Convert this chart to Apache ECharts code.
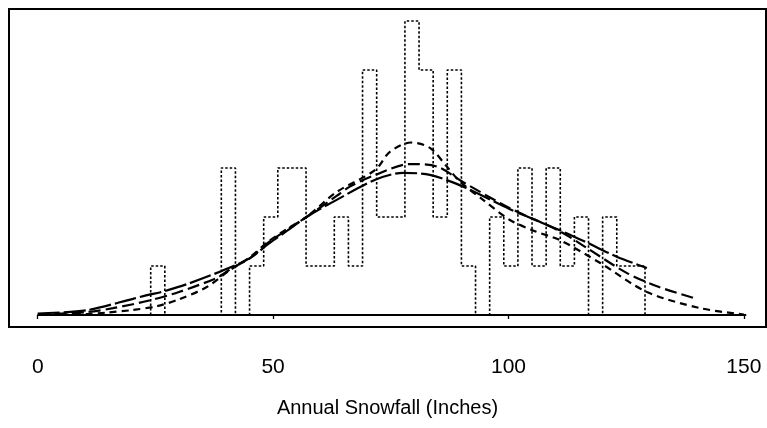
<!DOCTYPE html>
<html>
<head>
<meta charset="utf-8">
<script src="https://cdn.jsdelivr.net/npm/echarts@6/dist/echarts.min.js"></script>
<style>
html,body{margin:0;padding:0;background:#fff;}
#c{width:767px;height:428px;}
</style>
</head>
<body>
<div id="c"></div>
<script>
// ---- data ----
const tickValues = [0, 50, 100, 150];
const xTitle = 'Annual Snowfall (Inches)';

// histogram bins (left / right edges, inches) and counts
const binLeft = [24,27,30,33,36,39,42,45,48,51,54,57,60,63,66,69,72,75,78,81,84,87,90,93,96,99,102,105,108,111,114,117,120,123,126];
const binRight = [27,30,33,36,39,42,45,48,51,54,57,60,63,66,69,72,75,78,81,84,87,90,93,96,99,102,105,108,111,114,117,120,123,126,129];
const binCounts = [1,0,0,0,0,3,0,1,2,3,3,1,1,2,1,5,2,2,6,5,2,5,1,0,2,1,3,1,3,1,2,0,2,1,1];

// baseline extent
const baselineX = [0, 150.5];

// long-dash curve
const longX = [0, 10.5, 20.2, 23.9, 25.9, 31.7, 39.1, 45.1, 49, 53, 57.1, 63.5, 71.7, 77.6, 83.3, 90.4, 100.3, 110.9, 116.6, 123, 129.4];
const longY = [0.03, 0.10, 0.33, 0.42, 0.46, 0.63, 0.90, 1.16, 1.45, 1.72, 2.0, 2.35, 2.76, 2.90, 2.86, 2.62, 2.16, 1.73, 1.48, 1.19, 0.96];

// medium-dash curve
const medX = [0, 10.5, 16, 23.9, 30, 38.1, 41, 45.1, 49, 53, 57.1, 63.5, 66.3, 71.7, 79.1, 84.8, 90.4, 100.3, 110.9, 116.6, 125.1, 132, 140];
const medY = [0.01, 0.06, 0.14, 0.30, 0.47, 0.76, 0.94, 1.16, 1.48, 1.74, 2.0, 2.43, 2.62, 2.86, 3.08, 3.03, 2.71, 2.18, 1.71, 1.37, 0.86, 0.57, 0.33];

// short-dash curve
const shortX = [0, 10.5, 14.7, 20, 25.3, 30, 35.9, 40.9, 45.1, 49, 53, 57.1, 63.5, 71.7, 74.8, 79.3, 83.3, 86.9, 89.7, 94.6, 100.3, 105.6, 110.9, 119.5, 129.4, 140.7, 150];
const shortY = [0.0, 0.02, 0.05, 0.10, 0.18, 0.32, 0.57, 0.92, 1.18, 1.50, 1.76, 2.0, 2.51, 2.96, 3.33, 3.52, 3.41, 3.03, 2.72, 2.35, 1.94, 1.71, 1.53, 1.06, 0.47, 0.14, 0.01];

// ---- build series data ----
const histPts = [];
histPts.push([binLeft[0], 0]);
for (let i = 0; i < binCounts.length; i++) {
  histPts.push([binLeft[i], binCounts[i]]);
  histPts.push([binRight[i], binCounts[i]]);
}
histPts.push([binRight[binRight.length - 1], 0]);

const zip = (xs, ys) => xs.map((x, i) => [x, ys[i]]);

const chart = echarts.init(document.getElementById('c'), null, {renderer: 'canvas'});
const FONT = '"Liberation Sans", Arial, Helvetica, sans-serif';

chart.setOption({
  animation: false,
  backgroundColor: '#fff',
  grid: {
    left: 9, right: 1, top: 9, bottom: 101,
    show: true, borderColor: '#000', borderWidth: 2, backgroundColor: 'transparent'
  },
  xAxis: {
    type: 'value',
    min: -6.1, max: 154.7,
    offset: 4,
    axisLine: {show: false},
    splitLine: {show: false},
    axisTick: {show: true, customValues: tickValues, length: 4, lineStyle: {color: '#000', width: 1.3}},
    axisLabel: {show: true, customValues: tickValues, margin: 26, color: '#000', fontSize: 21, fontFamily: FONT},
    name: xTitle,
    nameLocation: 'middle',
    nameGap: 67,
    nameTextStyle: {color: '#000', fontSize: 20, fontFamily: FONT}
  },
  yAxis: {
    type: 'value',
    min: -0.245, max: 6.245,
    show: false,
    splitLine: {show: false}
  },
  series: [
    {
      type: 'line', data: histPts, symbol: 'none', silent: true, z: 2,
      lineStyle: {color: '#000', width: 1.6, type: [2.5, 2]}
    },
    {
      type: 'line', data: baselineX.map(x => [x, 0]), symbol: 'none', silent: true, z: 3,
      lineStyle: {color: '#000', width: 2, type: 'solid'}
    },
    {
      type: 'line', data: zip(longX, longY), symbol: 'none', smooth: 0.3, silent: true, z: 4,
      lineStyle: {color: '#000', width: 2.2, type: [22, 4]}
    },
    {
      type: 'line', data: zip(medX, medY), symbol: 'none', smooth: 0.3, silent: true, z: 4,
      lineStyle: {color: '#000', width: 2.2, type: [12, 5]}
    },
    {
      type: 'line', data: zip(shortX, shortY), symbol: 'none', smooth: 0.3, silent: true, z: 4,
      lineStyle: {color: '#000', width: 2.2, type: [7, 5]}
    }
  ]
});
</script>
</body>
</html>
